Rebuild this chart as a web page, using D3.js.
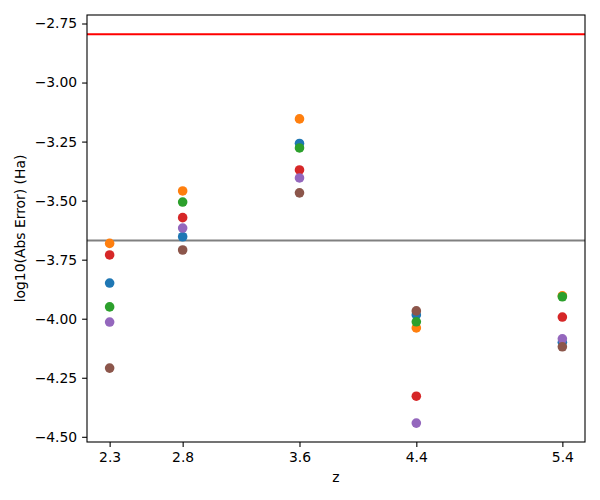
<!DOCTYPE html>
<html><head><meta charset="utf-8">
<script src="https://cdn.jsdelivr.net/npm/d3@7"></script>
<style>body{margin:0;background:#fff}svg{display:block}text{font-family:"DejaVu Sans",sans-serif}</style>
</head><body><svg id="c" width="600" height="500"></svg>
<script>
const zValues = [2.3, 2.8, 3.6, 4.4, 5.4];
const xTicks = [2.3, 2.8, 3.6, 4.4, 5.4];
const yTicks = [-2.75, -3.0, -3.25, -3.5, -3.75, -4.0, -4.25, -4.5];
const seriesBlue   = [-3.849, -3.653, -3.258, -3.984, -4.100];
const seriesOrange = [-3.681, -3.459, -3.154, -4.039, -3.903];
const seriesGreen  = [-3.950, -3.506, -3.277, -4.013, -3.907];
const seriesRed    = [-3.730, -3.572, -3.370, -4.328, -3.993];
const seriesPurple = [-4.014, -3.616, -3.404, -4.442, -4.085];
const seriesBrown  = [-4.209, -3.709, -3.467, -3.967, -4.119];
const seriesColors = ["#1f77b4", "#ff7f0e", "#2ca02c", "#d62728", "#9467bd", "#8c564b"];
const redLine = -2.796;
const grayLine = -3.669;

const series = [seriesBlue, seriesOrange, seriesGreen, seriesRed, seriesPurple, seriesBrown];
const svg = d3.select("#c");
const L = 87, R = 585, T = 15, B = 442;
const x = d3.scaleLinear().domain([2.145, 5.555]).range([L, R]);
const y = d3.scaleLinear().domain([-4.522, -2.714]).range([B, T]);
const fmtMinus = s => s.replace("-", "\u2212");

svg.append("line").attr("x1", L).attr("x2", R).attr("y1", y(redLine)).attr("y2", y(redLine))
  .attr("stroke", "#ff0000").attr("stroke-width", 2);
svg.append("line").attr("x1", L).attr("x2", R).attr("y1", y(grayLine)).attr("y2", y(grayLine))
  .attr("stroke", "#808080").attr("stroke-width", 2);

series.forEach((s, i) => {
  svg.append("g").selectAll("circle").data(s).join("circle")
    .attr("cx", (d, j) => x(zValues[j])).attr("cy", d => y(d)).attr("r", 4.8)
    .attr("fill", seriesColors[i]);
});

const xa = svg.append("g").attr("transform", `translate(0,${B})`)
  .call(d3.axisBottom(x).tickValues(xTicks).tickFormat(d3.format(".1f")).tickSize(4.9).tickPadding(4.9));
const ya = svg.append("g").attr("transform", `translate(${L},0)`)
  .call(d3.axisLeft(y).tickValues(yTicks).tickFormat(d => fmtMinus(d3.format(".2f")(d))).tickSize(4.9).tickPadding(4.9));
[xa, ya].forEach(a => {
  a.select(".domain").remove();
  a.selectAll("text").attr("font-size", 13.9).attr("fill", "#000").attr("font-family", "DejaVu Sans");
  a.selectAll("line").attr("stroke", "#000").attr("stroke-width", 1.1);
});
svg.append("rect").attr("x", L).attr("y", T).attr("width", R - L).attr("height", B - T)
  .attr("fill", "none").attr("stroke", "#000").attr("stroke-width", 1.1);

svg.append("text").attr("x", (L + R) / 2).attr("y", 482).attr("text-anchor", "middle")
  .attr("font-size", 13.9).text("z");
svg.append("text").attr("transform", `translate(25,${(T + B) / 2}) rotate(-90)`).attr("text-anchor", "middle")
  .attr("font-size", 13.9).text("log10(Abs Error) (Ha)");
</script></body></html>
